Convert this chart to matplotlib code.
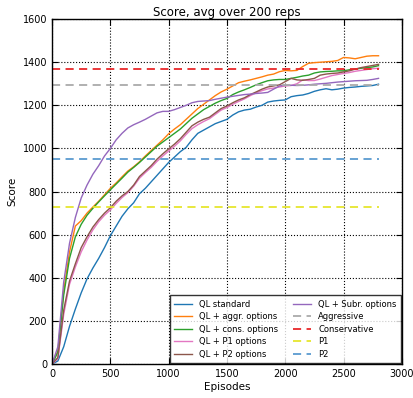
import matplotlib
matplotlib.use("Agg")
import matplotlib.pyplot as plt
import numpy as np

episodes = list(range(0, 2801, 50))

ql_standard = [0, 14, 80, 175, 255, 330, 395, 445, 490, 540, 595, 640, 685, 720, 748, 790, 815, 845, 875, 905,
               935, 960, 985, 1005, 1040, 1070, 1085, 1100, 1115, 1125, 1135, 1155, 1170, 1178, 1182, 1192, 1200,
               1215, 1220, 1223, 1225, 1240, 1245, 1248, 1255, 1265, 1272, 1277, 1272, 1275, 1280, 1283, 1285,
               1288, 1290, 1292, 1298]
ql_aggr = [0, 60, 340, 520, 640, 665, 700, 728, 755, 785, 815, 840, 868, 895, 915, 938, 965, 990, 1015, 1040,
           1068, 1090, 1110, 1135, 1160, 1185, 1205, 1225, 1245, 1262, 1275, 1290, 1305, 1312, 1318, 1325, 1332,
           1340, 1345, 1356, 1362, 1360, 1362, 1380, 1395, 1398, 1400, 1402, 1404, 1408, 1422, 1420, 1416,
           1422, 1428, 1430, 1430]
ql_cons = [0, 55, 320, 490, 590, 648, 690, 722, 752, 780, 808, 835, 862, 890, 912, 935, 960, 985, 1010, 1030,
           1050, 1070, 1090, 1115, 1140, 1160, 1180, 1195, 1210, 1222, 1232, 1250, 1262, 1272, 1283, 1295, 1305,
           1314, 1318, 1320, 1320, 1325, 1330, 1336, 1340, 1350, 1355, 1357, 1358, 1360, 1360, 1365, 1368,
           1372, 1375, 1378, 1384]
ql_p1 = [0, 25, 230, 370, 450, 520, 575, 622, 660, 690, 715, 745, 772, 795, 825, 862, 888, 912, 940, 965,
         988, 1010, 1035, 1065, 1092, 1110, 1125, 1138, 1158, 1178, 1190, 1205, 1218, 1230, 1245, 1258, 1268,
         1276, 1280, 1285, 1290, 1292, 1300, 1318, 1315, 1315, 1322, 1330, 1338, 1343, 1348, 1352, 1358,
         1362, 1366, 1370, 1372]
ql_p2 = [0, 30, 250, 385, 465, 540, 590, 635, 670, 700, 725, 755, 780, 800, 830, 870, 895, 920, 950, 975,
         998, 1020, 1045, 1075, 1105, 1122, 1135, 1145, 1165, 1185, 1197, 1212, 1225, 1235, 1250, 1262, 1275,
         1285, 1290, 1295, 1310, 1325, 1318, 1316, 1320, 1325, 1340, 1345, 1348, 1350, 1355, 1360, 1368,
         1375, 1380, 1385, 1390]
ql_subr = [0, 80, 380, 560, 680, 770, 830, 880, 920, 965, 1000, 1040, 1070, 1095, 1110, 1122, 1135, 1150,
           1165, 1172, 1172, 1180, 1190, 1200, 1212, 1218, 1220, 1222, 1228, 1233, 1238, 1242, 1246, 1250,
           1252, 1255, 1257, 1260, 1275, 1290, 1293, 1293, 1292, 1293, 1295, 1298, 1300, 1302, 1305, 1308,
           1310, 1312, 1314, 1315, 1316, 1320, 1325]

series_labels = ["QL standard", "QL + aggr. options", "QL + cons. options",
                 "QL + P1 options", "QL + P2 options", "QL + Subr. options"]
series_colors = ["#1f77b4", "#ff7f0e", "#2ca02c", "#e377c2", "#8c564b", "#9467bd"]

baseline_labels = ["Aggressive", "Conservative", "P1", "P2"]
baseline_values = [1295, 1370, 730, 950]
baseline_colors = ["#aaaaaa", "#e8282a", "#e6e62e", "#5b9bd0"]

plt.rcParams['font.family'] = ['DejaVu Sans']
fig = plt.figure(figsize=(4.13, 3.98), dpi=100)
ax = fig.add_axes([0.126, 0.0854, 0.847, 0.8666])

series = [ql_standard, ql_aggr, ql_cons, ql_p1, ql_p2, ql_subr]
for vals, lab, col in zip(series, series_labels, series_colors):
    ax.plot(episodes, vals, color=col, lw=1.0, label=lab)

for val, lab, col in zip(baseline_values, baseline_labels, baseline_colors):
    ax.plot([0, 2800], [val, val], color=col, lw=1.3, ls=(0, (4.5, 3)), label=lab)

ax.set_xlim(0, 3000)
ax.set_ylim(0, 1600)
ax.set_xticks(np.arange(0, 3001, 500))
ax.set_yticks(np.arange(0, 1601, 200))
ax.grid(True, color='black', ls=':', lw=0.8)
ax.tick_params(direction='in', top=True, right=True, labelsize=7, length=4, width=0.8)
for s in ax.spines.values():
    s.set_linewidth(1.0)
ax.set_xlabel("Episodes", fontsize=7.5, labelpad=2)
ax.set_ylabel("Score", fontsize=7.5, labelpad=4)
ax.set_title("Score, avg over 200 reps", fontsize=8.5, pad=2)

leg = ax.legend(loc='lower right', ncol=2, fontsize=6, frameon=True, fancybox=False,
                handlelength=2.2, columnspacing=1.8, borderpad=0.5, labelspacing=0.42,
                borderaxespad=0.15)
leg.get_frame().set_edgecolor('black')
leg.get_frame().set_linewidth(1.0)

fig.savefig("out.png", dpi=100)
